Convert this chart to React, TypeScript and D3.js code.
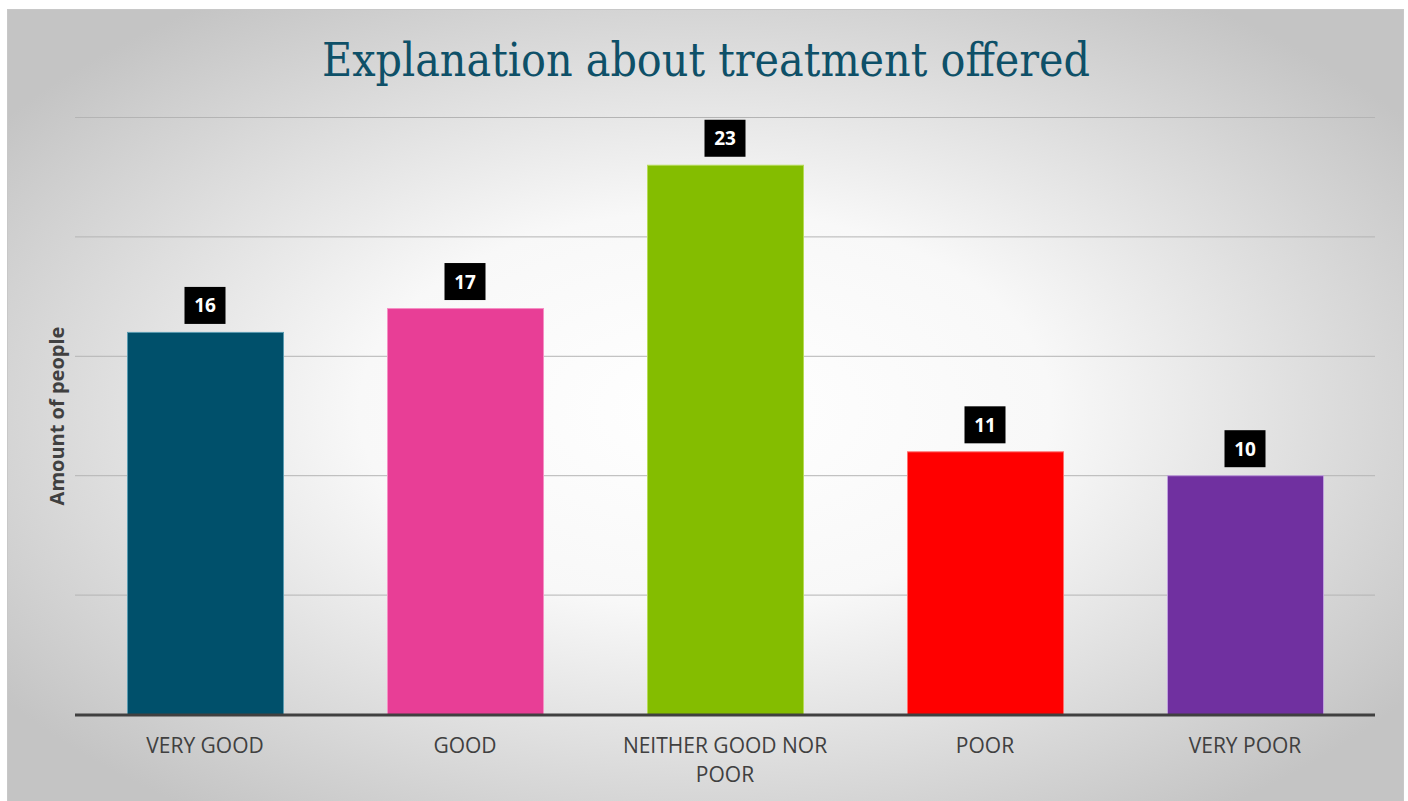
import React from "react";
import * as d3 from "d3";

const categories = ["VERY GOOD", "GOOD", "NEITHER GOOD NOR POOR", "POOR", "VERY POOR"];
const labelLines = [["VERY GOOD"], ["GOOD"], ["NEITHER GOOD NOR", "POOR"], ["POOR"], ["VERY POOR"]];
const values = [16, 17, 23, 11, 10];
const colors = ["#00506B", "#E83E96", "#84BD00", "#FF0000", "#7030A0"];
const strokes = ["#5A9BB0", "#F58FC4", "#B5DB55", "#FF7070", "#C0A0DD"];
const yTicks = [0, 5, 10, 15, 20, 25];

const W = 1408;
const H = 801;

export default function App() {
  const x = d3.scaleBand<string>().domain(categories).range([75, 1375]).paddingInner(0.4).paddingOuter(0.2);
  const y = d3.scaleLinear().domain([0, 25]).range([714, 117]);
  return (
    <svg width={W} height={H} style={{ position: "absolute", left: 0, top: 0 }}>
      <defs>
        <radialGradient id="bg" cx="0.5" cy="0.5" r="0.62" fx="0.5" fy="0.5">
          <stop offset="0" stopColor="#ffffff" />
          <stop offset="0.4" stopColor="#f8f8f8" />
          <stop offset="1" stopColor="#c4c4c4" />
        </radialGradient>
      </defs>
      <rect x={0} y={0} width={W} height={H} fill="#ffffff" />
      <rect x={7.5} y={9.5} width={1396} height={800} fill="url(#bg)" stroke="#c8c8c8" strokeWidth={1} />
      <text
        x={706}
        y={76}
        textAnchor="middle"
        fill="#0E5068"
        style={{ fontFamily: "'DejaVu Serif'", fontSize: 46, fontStretch: "condensed" }}
      >
        Explanation about treatment offered
      </text>
      {yTicks.filter((t) => t > 0).map((t) => (
        <line key={t} x1={75} x2={1375} y1={y(t) + 0.5} y2={y(t) + 0.5} stroke="#b4b4b4" strokeWidth={1} />
      ))}
      {categories.map((c, i) => (
        <rect
          key={c}
          x={x(c)! + 0.5}
          y={y(values[i]) + 0.5}
          width={x.bandwidth()}
          height={y(0) - y(values[i])}
          fill={colors[i]}
          stroke={strokes[i]}
          strokeWidth={1}
        />
      ))}
      <line x1={75} x2={1375} y1={y(0) + 1} y2={y(0) + 1} stroke="#404040" strokeWidth={3} />
      {categories.map((c, i) => {
        const cx = x(c)! + x.bandwidth() / 2;
        const txt = String(values[i]);
        const bw = 41;
        const bh = 37;
        const by = y(values[i]) - 8 - bh;
        return (
          <g key={"l" + c}>
            <rect x={cx - bw / 2} y={by} width={bw} height={bh} fill="#000000" />
            <text
              x={cx}
              y={by + bh / 2 + 7}
              textAnchor="middle"
              fill="#ffffff"
              style={{ fontFamily: "'Open Sans'", fontWeight: 700, fontSize: 19 }}
            >
              {txt}
            </text>
          </g>
        );
      })}
      {categories.map((c, i) => {
        const cx = x(c)! + x.bandwidth() / 2;
        return (
          <text
            key={"x" + c}
            x={cx}
            y={753}
            textAnchor="middle"
            fill="#404040"
            style={{ fontFamily: "'Open Sans'", fontSize: 21 }}
          >
            {labelLines[i].map((ln, j) => (
              <tspan key={j} x={cx} dy={j === 0 ? 0 : 29}>
                {ln}
              </tspan>
            ))}
          </text>
        );
      })}
      <text
        transform={`translate(64, 416) rotate(-90)`}
        textAnchor="middle"
        fill="#404040"
        style={{ fontFamily: "'Open Sans'", fontWeight: 700, fontSize: 20 }}
      >
        Amount of people
      </text>
    </svg>
  );
}
